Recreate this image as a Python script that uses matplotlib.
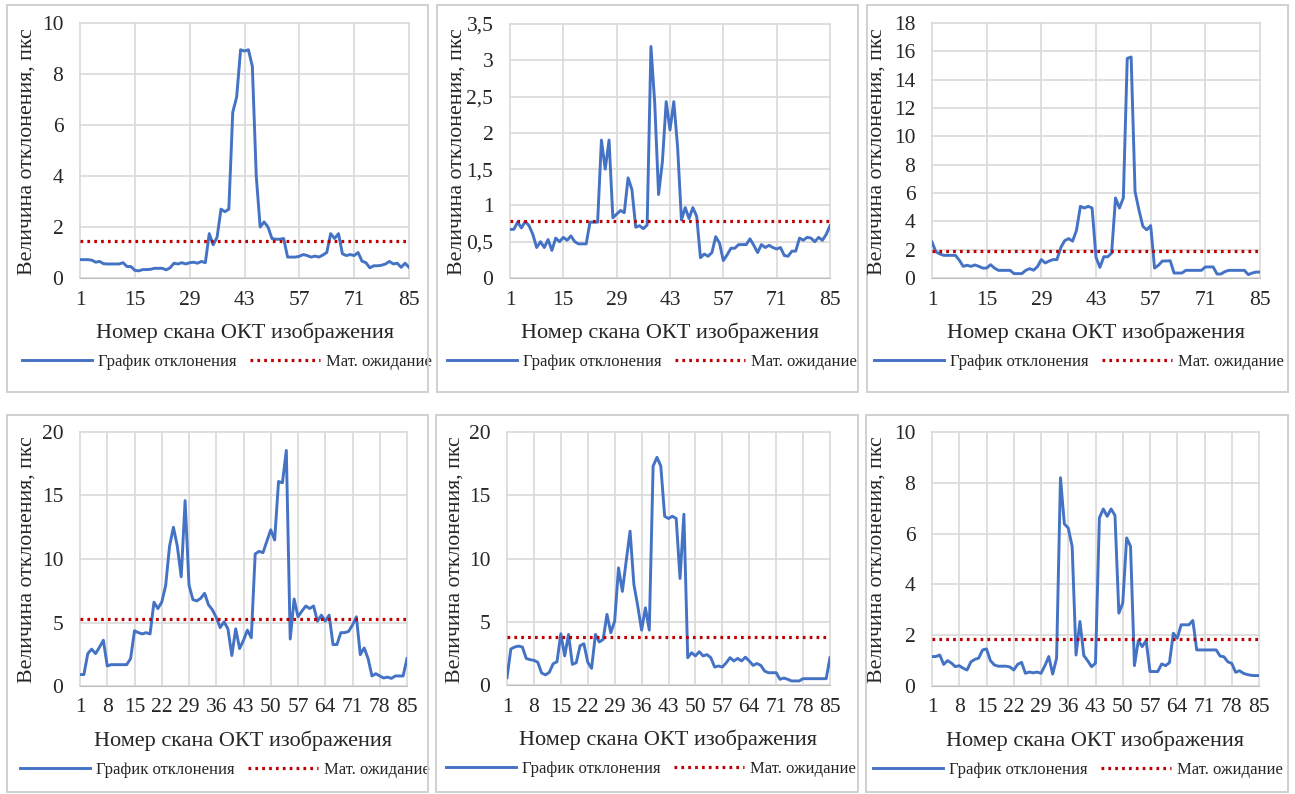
import matplotlib
matplotlib.use("Agg")
import matplotlib.pyplot as plt
from matplotlib.patches import Rectangle
from matplotlib.ticker import FuncFormatter

plt.rcParams["font.family"] = ["Liberation Serif", "DejaVu Serif"]

W, H = 1295, 794

scans = list(range(1, 86))

dev_a = [0.72, 0.72, 0.72, 0.70, 0.62, 0.65, 0.56, 0.55, 0.55, 0.55,
         0.55, 0.60, 0.45, 0.45, 0.30, 0.28, 0.33, 0.33, 0.34, 0.38,
         0.38, 0.38, 0.32, 0.40, 0.58, 0.55, 0.60, 0.55, 0.60, 0.62,
         0.58, 0.65, 0.60, 1.74, 1.30, 1.60, 2.70, 2.60, 2.70, 6.50,
         7.10, 8.95, 8.90, 8.95, 8.30, 4.00, 2.00, 2.20, 2.00, 1.55,
         1.52, 1.52, 1.55, 0.82, 0.82, 0.82, 0.85, 0.92, 0.88, 0.82,
         0.86, 0.82, 0.90, 1.00, 1.74, 1.55, 1.74, 0.95, 0.88, 0.92,
         0.88, 1.00, 0.66, 0.60, 0.40, 0.48, 0.48, 0.50, 0.55, 0.65,
         0.55, 0.58, 0.42, 0.58, 0.42]
dev_b = [0.67, 0.67, 0.77, 0.69, 0.78, 0.72, 0.60, 0.42, 0.50, 0.42,
         0.53, 0.38, 0.55, 0.50, 0.56, 0.52, 0.58, 0.50, 0.47, 0.47,
         0.47, 0.77, 0.77, 0.77, 1.90, 1.50, 1.90, 0.83, 0.88, 0.93,
         0.90, 1.38, 1.22, 0.70, 0.72, 0.68, 0.73, 3.19, 2.40, 1.15,
         1.60, 2.43, 2.04, 2.43, 1.80, 0.80, 0.97, 0.82, 0.97, 0.85,
         0.28, 0.33, 0.30, 0.35, 0.57, 0.48, 0.24, 0.32, 0.41, 0.41,
         0.46, 0.46, 0.46, 0.54, 0.45, 0.35, 0.46, 0.42, 0.45, 0.42,
         0.40, 0.42, 0.31, 0.30, 0.37, 0.37, 0.55, 0.52, 0.56, 0.55,
         0.50, 0.56, 0.52, 0.60, 0.72]
dev_c = [2.54, 1.85, 1.70, 1.60, 1.60, 1.60, 1.60, 1.25, 0.82, 0.90,
         0.82, 0.92, 0.82, 0.70, 0.70, 0.94, 0.70, 0.54, 0.54, 0.54,
         0.54, 0.31, 0.31, 0.31, 0.54, 0.66, 0.55, 0.80, 1.30, 1.06,
         1.20, 1.30, 1.30, 2.16, 2.64, 2.78, 2.60, 3.36, 5.06, 4.94,
         5.06, 4.94, 1.46, 0.75, 1.50, 1.50, 1.76, 5.65, 4.94, 5.65,
         15.5, 15.6, 6.10, 4.80, 3.65, 3.40, 3.70, 0.70, 0.90, 1.20,
         1.20, 1.22, 0.35, 0.35, 0.35, 0.54, 0.54, 0.54, 0.54, 0.54,
         0.78, 0.78, 0.78, 0.28, 0.28, 0.45, 0.54, 0.54, 0.54, 0.54,
         0.54, 0.24, 0.35, 0.42, 0.42]
dev_d = [0.90, 0.90, 2.55, 2.90, 2.55, 3.05, 3.60, 1.58, 1.68, 1.68,
         1.68, 1.68, 1.68, 2.16, 4.35, 4.20, 4.10, 4.20, 4.10, 6.60,
         6.10, 6.60, 7.90, 11.0, 12.5, 11.0, 8.60, 14.6, 7.95, 6.80,
         6.70, 6.90, 7.30, 6.40, 6.00, 5.40, 4.60, 5.05, 4.50, 2.40,
         4.50, 2.95, 3.60, 4.40, 3.80, 10.4, 10.6, 10.5, 11.4, 12.3,
         11.5, 16.1, 16.0, 18.55, 3.70, 6.85, 5.45, 5.90, 6.30, 6.10,
         6.30, 5.10, 5.58, 5.10, 5.58, 3.26, 3.26, 4.20, 4.20, 4.30,
         4.80, 5.45, 2.47, 3.00, 2.16, 0.79, 0.97, 0.79, 0.63, 0.70,
         0.60, 0.79, 0.79, 0.79, 2.16]
dev_e = [0.58, 2.85, 3.00, 3.08, 3.00, 2.10, 2.00, 1.95, 1.80, 0.95,
         0.80, 1.00, 1.68, 1.84, 4.05, 2.30, 4.00, 1.63, 1.76, 3.10,
         3.26, 1.80, 1.32, 4.00, 3.40, 3.60, 5.58, 4.13, 5.05, 9.26,
         7.40, 9.80, 12.16, 7.95, 6.24, 4.34, 6.10, 4.34, 17.3, 18.0,
         17.3, 13.34, 13.16, 13.34, 13.16, 8.42, 13.5, 2.16, 2.55, 2.30,
         2.63, 2.30, 2.40, 2.16, 1.42, 1.50, 1.42, 1.75, 2.16, 1.90,
         2.10, 1.90, 2.20, 1.90, 1.55, 1.70, 1.55, 1.10, 0.97, 0.97,
         0.97, 0.45, 0.55, 0.45, 0.32, 0.32, 0.32, 0.50, 0.50, 0.50,
         0.50, 0.50, 0.50, 0.50, 2.16]
dev_f = [1.16, 1.16, 1.22, 0.85, 1.00, 0.90, 0.76, 0.80, 0.70, 0.63,
         0.95, 1.05, 1.10, 1.42, 1.46, 1.00, 0.83, 0.78, 0.78, 0.78,
         0.75, 0.63, 0.85, 0.93, 0.50, 0.55, 0.52, 0.55, 0.50, 0.80,
         1.16, 0.47, 1.09, 8.20, 6.38, 6.22, 5.50, 1.22, 2.54, 1.20,
         0.99, 0.76, 0.90, 6.62, 6.97, 6.68, 6.97, 6.72, 2.87, 3.26,
         5.83, 5.50, 0.80, 1.79, 1.55, 1.79, 0.57, 0.57, 0.57, 0.87,
         0.80, 0.92, 2.08, 1.88, 2.41, 2.41, 2.41, 2.58, 1.42, 1.42,
         1.42, 1.42, 1.42, 1.42, 1.18, 1.15, 0.95, 0.89, 0.54, 0.60,
         0.50, 0.45, 0.42, 0.41, 0.41]

means = [1.45, 0.78, 1.88, 5.26, 3.79, 1.86]

x_label = "Номер скана ОКТ изображения"
y_label = "Величина отклонения, пкс"
legend_labels = ["График отклонения", "Мат. ожидание"]

BLUE = "#4472C4"
RED = "#C00000"
GRID = "#D9D9D9"
TEXT = "#262626"

# plot box (px), frame box (px), ymax, ystep, xstep, ylabel x, legend centre x
panels = [
    (dev_a, (80, 23, 409, 278), (7, 5, 428, 392), 10, 2, 14, 27, 227),
    (dev_b, (510, 24, 830, 278), (437, 5, 858, 392), 3.5, 0.5, 14, 457, 652),
    (dev_c, (932, 23, 1260, 278), (867, 5, 1288, 392), 18, 2, 14, 877, 1079),
    (dev_d, (80, 432, 407, 686), (7, 415, 428, 792), 20, 5, 7, 27, 225),
    (dev_e, (507, 432, 830, 685), (436, 415, 858, 792), 20, 5, 7, 455, 651),
    (dev_f, (932, 432, 1259, 686), (866, 415, 1288, 792), 10, 2, 7, 877, 1078),
]

fig = plt.figure(figsize=(W / 100, H / 100), dpi=100)


def fx(px):
    return px / W


def fy(px):
    return 1 - px / H


comma = FuncFormatter(lambda v, _: f"{v:g}".replace(".", ","))

for (vals, box, frame, ymax, ystep, xstep, ylx, legx), mean in zip(panels, means):
    x0, y0, x1, y1 = box
    fig.add_artist(Rectangle((fx(frame[0]), fy(frame[3])),
                             fx(frame[2] - frame[0]), (frame[3] - frame[1]) / H,
                             transform=fig.transFigure, fill=False,
                             edgecolor="#D0D0D0", linewidth=1.4))
    ax = fig.add_axes([fx(x0), fy(y1), fx(x1 - x0), (y1 - y0) / H])
    ax.plot(scans, vals, color=BLUE, lw=2.1, label=legend_labels[0],
            solid_joinstyle="round", zorder=3)
    ax.plot([scans[0], scans[-1]], [mean, mean], color=RED, lw=2.3,
            linestyle=(0, (0.85, 1.3)), label=legend_labels[1], zorder=3)
    ax.set_xlim(1, 85)
    ax.set_ylim(0, ymax)
    ax.set_xticks(range(1, 86, xstep))
    yt = [i * ystep for i in range(int(round(ymax / ystep)) + 1)]
    ax.set_yticks(yt)
    ax.yaxis.set_major_formatter(comma)
    ax.grid(True, color=GRID, lw=1.2, zorder=0)
    for g in ax.get_xgridlines() + ax.get_ygridlines():
        g.set_clip_on(False)
    for s in ["top", "right", "left"]:
        ax.spines[s].set_visible(False)
    ax.spines["bottom"].set_color("#BFBFBF")
    ax.tick_params(length=0, labelsize=15.5, colors=TEXT, pad=9)
    ax.tick_params(axis="y", pad=12)
    fig.text(fx((x0 + x1) / 2), fy(y1 + 55), x_label, ha="center",
             va="center", fontsize=16, color=TEXT)
    fig.text(fx(ylx), fy((y0 + y1) / 2 + 1), y_label, rotation=90,
             ha="center", va="center", fontsize=15.7, color=TEXT)
    ax.legend(loc="center", bbox_to_anchor=(fx(legx), fy(y1 + 84)),
              bbox_transform=fig.transFigure, ncol=2, frameon=False,
              fontsize=12, handlelength=4.2, columnspacing=0.8,
              handletextpad=0.35, labelcolor=TEXT)

fig.savefig("out.png", dpi=100)
